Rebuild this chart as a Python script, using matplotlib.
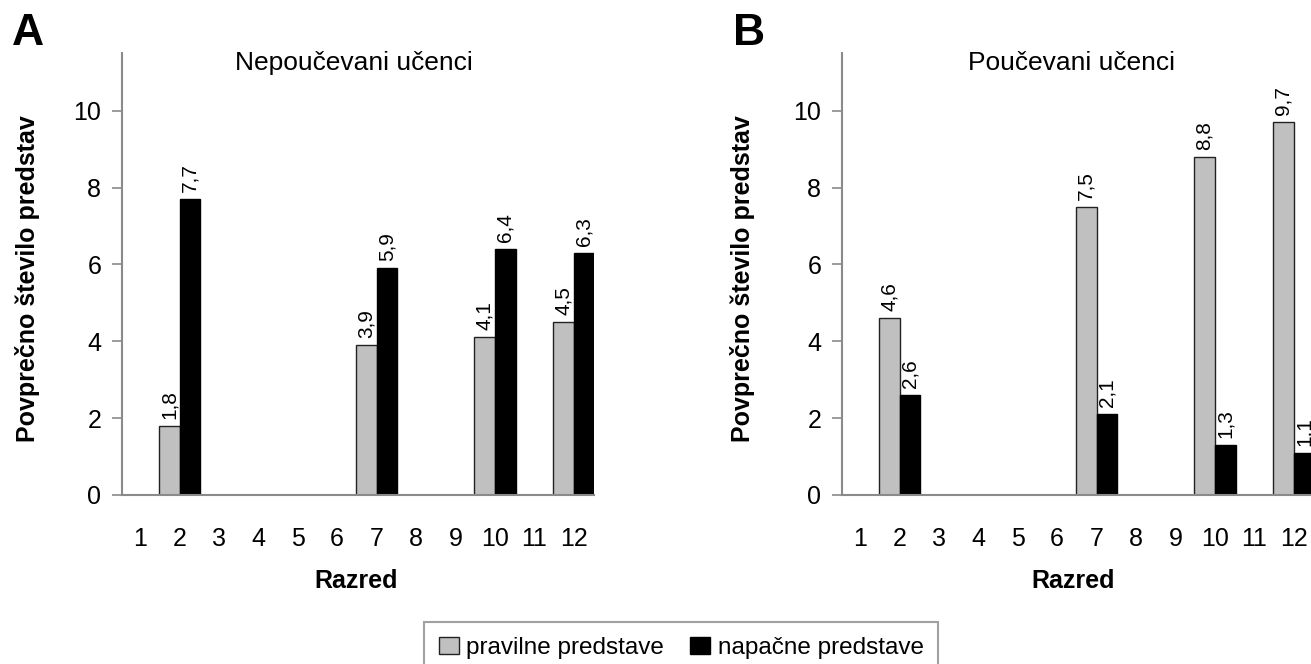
import matplotlib
matplotlib.use("Agg")
import matplotlib.pyplot as plt
from matplotlib.patches import Patch

plt.rcParams['font.family'] = ['Liberation Sans', 'DejaVu Sans']

# Data
grades = [1, 2, 3, 4, 5, 6, 7, 8, 9, 10, 11, 12]
measured_grades = [2, 7, 10, 12]

untaught_correct = [1.8, 3.9, 4.1, 4.5]
untaught_wrong = [7.7, 5.9, 6.4, 6.3]

taught_correct = [4.6, 7.5, 8.8, 9.7]
taught_wrong = [2.6, 2.1, 1.3, 1.1]

panel_titles = ["Nepoučevani učenci", "Poučevani učenci"]
panel_letters = ["A", "B"]
series_names = ["pravilne predstave", "napačne predstave"]
y_label = "Povprečno število predstav"
x_label = "Razred"
y_ticks = [0, 2, 4, 6, 8, 10]

W, H = 1311, 664
fig = plt.figure(figsize=(W / 100, H / 100), dpi=100)

GRAY = "#c0c0c0"
SPINE = "#8a8a8a"
bar_w = 0.53


def fx(px):
    return px / W


def fy(py):
    return 1 - py / H


def draw_panel(left_px, correct, wrong, title, letter, title_x, ylab_x, xlab_x, letter_x):
    ax = fig.add_axes([fx(left_px), fy(495), 472 / W, 442 / H])
    xs_c = [g - bar_w / 2 for g in measured_grades]
    xs_w = [g + bar_w / 2 for g in measured_grades]
    bc = ax.bar(xs_c, correct, width=bar_w, color=GRAY, edgecolor="#222222", linewidth=1.0)
    bw = ax.bar(xs_w, wrong, width=bar_w, color="black", edgecolor="black", linewidth=1.0)
    for bars, vals in ((bc, correct), (bw, wrong)):
        for b, v in zip(bars, vals):
            ax.annotate(f"{v:.1f}".replace(".", ","),
                        (b.get_x() + b.get_width() / 2, v),
                        xytext=(0, 5), textcoords="offset points",
                        rotation=90, ha="center", va="bottom", fontsize=15,
                        annotation_clip=False)
    ax.set_xlim(0.54, 12.52)
    ax.set_ylim(0, 11.5)
    ax.set_xticks(grades)
    ax.set_xticklabels([str(g) for g in grades])
    ax.set_yticks(y_ticks)
    for s in ("top", "right"):
        ax.spines[s].set_visible(False)
    for s in ("left", "bottom"):
        ax.spines[s].set_color(SPINE)
        ax.spines[s].set_linewidth(1.5)
    ax.tick_params(axis="y", length=7, width=1.2, color=SPINE, pad=8, labelsize=18)
    ax.tick_params(axis="x", length=0, pad=23, labelsize=18)
    ax.set_facecolor("white")

    fig.text(fx(title_x), fy(63), title, ha="center", va="center", fontsize=19)
    fig.text(fx(ylab_x), fy(279), y_label, ha="center", va="center",
             rotation=90, fontsize=18, fontweight="bold")
    fig.text(fx(xlab_x), fy(581), x_label, ha="center", va="center",
             fontsize=18, fontweight="bold")
    fig.text(fx(letter_x), fy(45), letter, ha="left", va="baseline",
             fontsize=32, fontweight="bold")
    return ax


draw_panel(122, untaught_correct, untaught_wrong, panel_titles[0], panel_letters[0],
           354, 28, 356, 12)
draw_panel(842, taught_correct, taught_wrong, panel_titles[1], panel_letters[1],
           1071, 743, 1073, 733)

handles = [Patch(facecolor=GRAY, edgecolor="#222222", linewidth=1.0),
           Patch(facecolor="black", edgecolor="black", linewidth=1.0)]
leg = fig.legend(handles, series_names, ncol=2, loc="upper left",
                 bbox_to_anchor=(fx(424), fy(622)), borderaxespad=0,
                 fontsize=17.5, frameon=True, fancybox=False, borderpad=0.6,
                 handlelength=0.82, handleheight=0.75, handletextpad=0.3,
                 columnspacing=1.1)
leg.get_frame().set_edgecolor(SPINE)
leg.get_frame().set_linewidth(1.5)

fig.savefig("out.png", dpi=100, facecolor="white")
